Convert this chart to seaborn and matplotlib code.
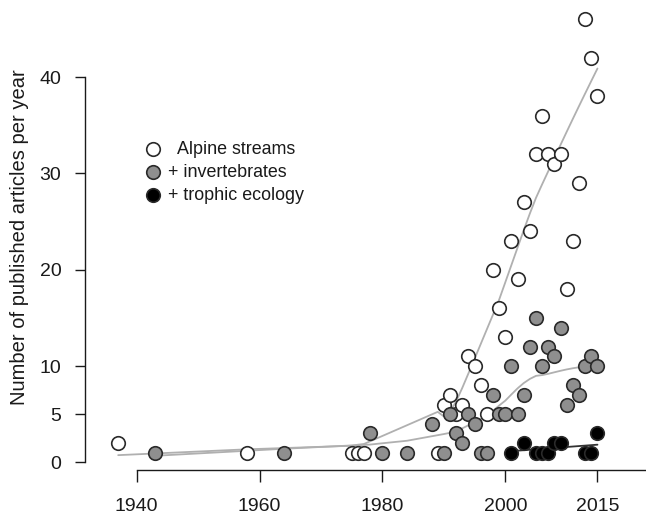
import numpy as np
import pandas as pd
import matplotlib
matplotlib.use("Agg")
import matplotlib.pyplot as plt
import seaborn as sns

# ---- data ----
alpine_years = [1937, 1958, 1975, 1976, 1977, 1989, 1990, 1991, 1992, 1993, 1994, 1995,
                1996, 1997, 1998, 1999, 2000, 2001, 2002, 2003, 2004, 2005, 2006, 2007,
                2008, 2009, 2010, 2011, 2012, 2013, 2014, 2015]
alpine_counts = [2, 1, 1, 1, 1, 1, 6, 7, 5, 6, 11, 10,
                 8, 5, 20, 16, 13, 23, 19, 27, 24, 32, 36, 32,
                 31, 32, 18, 23, 29, 46, 42, 38]

invert_years = [1943, 1964, 1978, 1980, 1984, 1988, 1990, 1991, 1992, 1993, 1994, 1995,
                1996, 1997, 1998, 1999, 2000, 2001, 2002, 2003, 2004, 2005, 2006, 2007,
                2008, 2009, 2010, 2011, 2012, 2013, 2014, 2015]
invert_counts = [1, 1, 3, 1, 1, 4, 1, 5, 3, 2, 5, 4,
                 1, 1, 7, 5, 5, 10, 5, 7, 12, 15, 10, 12,
                 11, 14, 6, 8, 7, 10, 11, 10]

trophic_years = [2001, 2003, 2005, 2006, 2007, 2008, 2009, 2013, 2014, 2015]
trophic_counts = [1, 2, 1, 1, 1, 2, 2, 1, 1, 3]

series_labels = ["  Alpine streams", "+ invertebrates", "+ trophic ecology"]
x_ticks = [1940, 1960, 1980, 2000, 2015]
y_ticks = [0, 5, 10, 20, 30, 40]
y_label = "Number of published articles per year"

# ---- styling ----
fills = ["white", "#8f8f8f", "black"]
line_colors = ["#b0b0b0", "#b0b0b0", "#333333"]
smoothers = ["lowess", "lowess", "linear"]
edge = "#2a2a2a"


def lowess(x, y, f=2 / 3, iters=3):
    """Port of R's lowess (clowess): robust locally-weighted linear fit."""
    x = np.asarray(x, float)
    y = np.asarray(y, float)
    n = len(x)
    ns = max(min(int(round(f * n)), n), 2)
    rng = x.max() - x.min()
    rw = np.ones(n)
    ys = np.zeros(n)
    for it in range(iters + 1):
        nleft, nright = 0, ns - 1
        for i in range(n):
            while nright < n - 1 and x[i] - x[nleft] > x[nright + 1] - x[i]:
                nleft += 1
                nright += 1
            h = max(x[i] - x[nleft], x[nright] - x[i])
            w = np.zeros(n)
            for j in range(nleft, n):
                r = abs(x[j] - x[i])
                if r <= .999 * h:
                    w[j] = 1 if r <= .001 * h else (1 - (r / h) ** 3) ** 3
                    if it > 0:
                        w[j] *= rw[j]
                elif x[j] > x[i]:
                    break
            a = w.sum()
            if a <= 0:
                ys[i] = y[i]
                continue
            w /= a
            if h > 0:
                am = np.sum(w * x)
                c = np.sum(w * (x - am) ** 2)
                if np.sqrt(c) > .001 * rng:
                    w = w * ((x[i] - am) / c * (x - am) + 1)
            ys[i] = np.sum(w * y)
        if it == iters:
            break
        res = np.abs(y - ys)
        cmad = 6 * np.median(res)
        if cmad < 1e-7 * res.mean():
            break
        rw = np.where(res <= .001 * cmad, 1,
                      np.where(res <= .999 * cmad, (1 - (res / cmad) ** 2) ** 2, 0))
    return x, ys


def linear_fit(x, y):
    x = np.asarray(x, float)
    b, a = np.polyfit(x, np.asarray(y, float), 1)
    return x, a + b * x


sns.set_style("ticks")
plt.rcParams["font.family"] = ["Liberation Sans", "DejaVu Sans"]

W, H = 646, 515
fig = plt.figure(figsize=(W / 100, H / 100), dpi=100)
ax_left, ax_right, ax_top, ax_bottom = 85, 646, 5, 470
ax = fig.add_axes([ax_left / W, 1 - ax_bottom / H,
                   (ax_right - ax_left) / W, (ax_bottom - ax_top) / H])

series = [(alpine_years, alpine_counts), (invert_years, invert_counts),
          (trophic_years, trophic_counts)]

# smooth curves
for (xs, ys), lc, kind in zip(series, line_colors, smoothers):
    gx, gy = lowess(xs, ys) if kind == "lowess" else linear_fit(xs, ys)
    sns.lineplot(x=gx, y=gy, ax=ax, color=lc, lw=1.3, zorder=2,
                 estimator=None, sort=False)

# points
for (xs, ys), fc, lab in zip(series, fills, series_labels):
    df = pd.DataFrame({"year": xs, "n": ys})
    sns.scatterplot(data=df, x="year", y="n", ax=ax, s=95, color=fc,
                    edgecolor=edge, linewidth=1.2, zorder=3, label=lab)

ax.set_xlim(1931.6, 2022.9)
ax.set_ylim(-0.8, 47.5)
ax.set_xticks(x_ticks)
ax.set_yticks(y_ticks)
ax.spines["left"].set_bounds(0, 40)
ax.spines["bottom"].set_bounds(1940, 2022.9)
for s in ["top", "right"]:
    ax.spines[s].set_visible(False)
for s in ["left", "bottom"]:
    ax.spines[s].set_linewidth(1.0)
    ax.spines[s].set_color("#1a1a1a")
ax.tick_params(axis="x", length=8.5, width=1.0, pad=12, labelsize=14,
               colors="#1a1a1a")
ax.tick_params(axis="y", length=7, width=1.0, pad=10, labelsize=14,
               colors="#1a1a1a")
ax.set_xlabel("")
ax.set_ylabel(y_label, fontsize=14.5, color="#1a1a1a")
ax.yaxis.set_label_coords((20 - ax_left) / (ax_right - ax_left), 0.5)
ax.yaxis.label.set_verticalalignment("center")

leg = ax.legend(loc="upper left", bbox_to_anchor=(128 / W, 1 - 125 / H),
                bbox_transform=fig.transFigure, frameon=False, fontsize=12.9,
                handlelength=1.0, handletextpad=0.35, labelspacing=0.33,
                borderpad=0.4)
for t in leg.get_texts():
    t.set_color("#1a1a1a")

fig.savefig("out.png", dpi=100)
